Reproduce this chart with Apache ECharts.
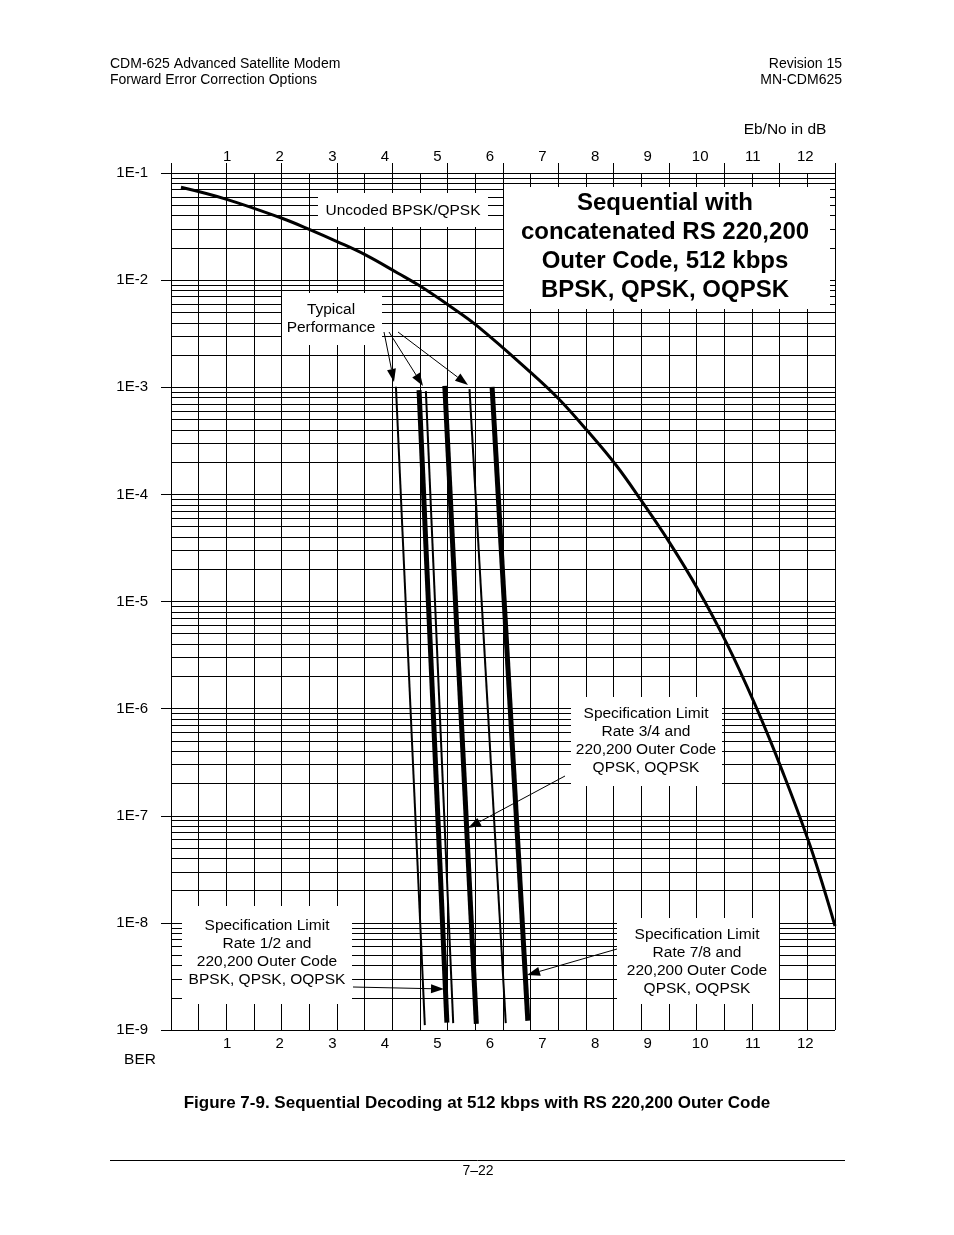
<!DOCTYPE html>
<html><head><meta charset="utf-8">
<script src="https://cdn.jsdelivr.net/npm/echarts@6.0.0/dist/echarts.min.js"></script>
<style>html,body{margin:0;padding:0;background:#fff}#c{width:954px;height:1235px}</style>
</head><body><div id="c"></div>
<script>
// ---------- DATA ----------
const ebnoTickLabels = [1, 2, 3, 4, 5, 6, 7, 8, 9, 10, 11, 12];
const minorMantissas = [2, 3, 4, 5, 6, 7, 8, 9];
const minorExponents = [-9, -8, -7, -6, -5, -4, -3, -2];

// Uncoded BPSK/QPSK curve (Eb/No dB, BER)
const uncodedEbNo = [0.12, 0.99, 2.04, 2.56, 3.09, 3.63, 4.25, 4.67, 5.22, 5.75, 6.80, 7.31, 7.85, 8.40, 8.87, 9.42, 9.96, 10.50, 11.04, 11.56, 12.10, 12.565];
const uncodedBer  = [7.36e-2, 5.68e-2, 3.78e-2, 2.98e-2, 2.29e-2, 1.72e-2, 1.16e-2, 8.8e-3, 5.8e-3, 3.76e-3, 1.34e-3, 7.77e-4, 3.94e-4, 1.87e-4, 8.87e-5, 3.53e-5, 1.29e-5, 4.11e-6, 1.10e-6, 2.64e-7, 5.10e-8, 9.35e-9];

// Typical performance (thin lines): [EbNo, BER] at top and bottom
const typicalRate12 = [[4.21, 1.01e-3], [4.76, 1.11e-9]];
const typicalRate34 = [[4.78, 9.2e-4], [5.30, 1.16e-9]];
const typicalRate78 = [[5.61, 9.6e-4], [6.30, 1.16e-9]];

// Specification limits (thick lines)
const specRate12 = [[4.65, 9.4e-4], [5.18, 1.17e-9]];
const specRate34 = [[5.14, 1.03e-3], [5.74, 1.14e-9]];
const specRate78 = [[6.04, 1.01e-3], [6.72, 1.22e-9]];

// ---------- CHART ----------
const FF = '"Liberation Sans", Arial, Helvetica, sans-serif';
const BLACK = '#000';
const X_MIN = -0.07, X_MAX = 12.565;
const chart = echarts.init(document.getElementById('c'));

const minorLines = [];
minorExponents.forEach(e => minorMantissas.forEach(m => {
  const v = m * Math.pow(10, e);
  minorLines.push({ coords: [[X_MIN, v], [X_MAX, v]] });
}));

const uncoded = uncodedEbNo.map((x, i) => [x, uncodedBer[i]]);

function lineSeries(name, data, width) {
  return { name, type: 'line', xAxisIndex: 0, yAxisIndex: 0, data, symbol: 'none',
    lineStyle: { color: BLACK, width }, z: 3, silent: true };
}

const gridLS = { color: BLACK, width: 1, type: 'solid' };
const labelAxisBase = {
  type: 'value', min: X_MIN, max: X_MAX,
  axisLine: { show: false, onZero: false }, axisTick: { show: false }, splitLine: { show: false },
};

// Annotation boxes
const boxes = [
  { x: 318, y: 193, w: 170, h: 34, text: 'Uncoded BPSK/QPSK', cx: 403, cy: 211, size: 15.5, lh: 18 },
  { x: 504, y: 187, w: 326, h: 122, text: 'Sequential with\nconcatenated RS 220,200\nOuter Code, 512 kbps\nBPSK, QPSK, OQPSK', cx: 665, cy: 247, size: 24, weight: 'bold', lh: 29 },
  { x: 282, y: 293, w: 100, h: 52, text: 'Typical\nPerformance', cx: 331, cy: 319, size: 15.5, lh: 18 },
  { x: 571, y: 697, w: 151, h: 89, text: 'Specification Limit\nRate 3/4 and\n220,200 Outer Code\nQPSK, OQPSK', cx: 646, cy: 741, size: 15.5, lh: 18 },
  { x: 182, y: 906, w: 170, h: 98, text: 'Specification Limit\nRate 1/2 and\n220,200 Outer Code\nBPSK, QPSK, OQPSK', cx: 267, cy: 953, size: 15.5, lh: 18 },
  { x: 617, y: 918, w: 162, h: 86, text: 'Specification Limit\nRate 7/8 and\n220,200 Outer Code\nQPSK, OQPSK', cx: 697, cy: 962, size: 15.5, lh: 18 },
];
const arrows = [
  [384, 332, 394, 382],
  [389, 332, 423, 386],
  [398, 332, 468, 385],
  [565, 776, 468, 828],
  [353, 987, 444, 989],
  [617, 949, 527, 975],
];

const graphics = [];
boxes.forEach(b => {
  graphics.push({ type: 'rect', z: 100, silent: true, shape: { x: b.x, y: b.y, width: b.w, height: b.h }, style: { fill: '#fff' } });
  graphics.push({ type: 'text', z: 101, silent: true, style: { x: b.cx, y: b.cy, text: b.text, fill: BLACK,
    font: `${b.weight || 'normal'} ${b.size}px ${FF}`, textAlign: 'center', textVerticalAlign: 'middle', lineHeight: b.lh } });
});
arrows.forEach(a => {
  const [x1, y1, x2, y2] = a;
  const dx = x2 - x1, dy = y2 - y1, L = Math.hypot(dx, dy);
  const ux = dx / L, uy = dy / L, len = 13, hw = 4.5;
  const bx = x2 - ux * len, by = y2 - uy * len;
  graphics.push({ type: 'line', z: 102, silent: true, shape: { x1, y1, x2: bx, y2: by }, style: { stroke: BLACK, lineWidth: 1 } });
  graphics.push({ type: 'polygon', z: 102, silent: true, shape: { points: [[x2, y2], [bx - uy * hw, by + ux * hw], [bx + uy * hw, by - ux * hw]] }, style: { fill: BLACK } });
});
function txt(t, x, y, size, align, weight) {
  graphics.push({ type: 'text', z: 101, silent: true, style: { x, y, text: t, fill: BLACK, font: `${weight || 'normal'} ${size}px ${FF}`, textAlign: align || 'left', textVerticalAlign: 'middle' } });
}
txt('CDM-625 Advanced Satellite Modem', 110, 64, 14);
txt('Forward Error Correction Options', 110, 80, 14);
txt('Revision 15', 842, 64, 14, 'right');
txt('MN-CDM625', 842, 80, 14, 'right');
txt('Eb/No in dB', 785, 130, 15.5, 'center');
txt('BER', 140, 1060, 15.5, 'center');
txt('Figure 7-9. Sequential Decoding at 512 kbps with RS 220,200 Outer Code', 477, 1103, 17, 'center', 'bold');
txt('7\u201322', 478, 1171, 14, 'center');
graphics.push({ type: 'line', z: 101, silent: true, shape: { x1: 110, y1: 1160.5, x2: 845, y2: 1160.5 }, style: { stroke: BLACK, lineWidth: 1 } });

const option = {
  animation: false,
  backgroundColor: '#fff',
  grid: { left: 171, right: 119, top: 173, bottom: 205, containLabel: false },
  xAxis: [
    Object.assign({}, labelAxisBase, { position: 'bottom',
      axisLabel: { customValues: ebnoTickLabels, fontSize: 15, color: BLACK, margin: 6, fontFamily: FF } }),
    Object.assign({}, labelAxisBase, { position: 'top',
      axisLabel: { customValues: ebnoTickLabels, fontSize: 15, color: BLACK, margin: 9, fontFamily: FF } }),
    { type: 'value', position: 'top', min: 0, max: 12, interval: 1,
      axisLine: { show: true, onZero: false, lineStyle: gridLS },
      axisTick: { show: true, inside: false, length: 10, lineStyle: gridLS },
      axisLabel: { show: false },
      splitLine: { show: true, lineStyle: gridLS },
      minorTick: { show: false, splitNumber: 2 },
      minorSplitLine: { show: true, lineStyle: gridLS } }
  ],
  yAxis: {
    type: 'log', logBase: 10, min: 1e-9, max: 1e-1, splitNumber: 8,
    axisLine: { show: true, onZero: false, lineStyle: gridLS },
    axisTick: { show: true, inside: false, length: 10, lineStyle: gridLS },
    axisLabel: { fontSize: 15, color: BLACK, margin: 23, fontFamily: FF,
      formatter: v => '1E' + Math.round(Math.log10(v)) },
    splitLine: { show: true, lineStyle: gridLS },
    minorTick: { show: false }
  },
  series: [
    { name: 'minor grid', type: 'lines', coordinateSystem: 'cartesian2d', xAxisIndex: 0, yAxisIndex: 0,
      silent: true, z: 1, polyline: false, lineStyle: { color: BLACK, width: 1, opacity: 1 }, data: minorLines },
    Object.assign(lineSeries('Uncoded BPSK/QPSK', uncoded, 3), { smooth: 0.4 }),
    lineSeries('Typical Rate 1/2', typicalRate12, 2),
    lineSeries('Typical Rate 3/4', typicalRate34, 2),
    lineSeries('Typical Rate 7/8', typicalRate78, 2),
    lineSeries('Spec Rate 1/2', specRate12, 5),
    lineSeries('Spec Rate 3/4', specRate34, 5),
    lineSeries('Spec Rate 7/8', specRate78, 5),
  ],
  graphic: { elements: graphics }
};
chart.setOption(option);
</script>
</body></html>
